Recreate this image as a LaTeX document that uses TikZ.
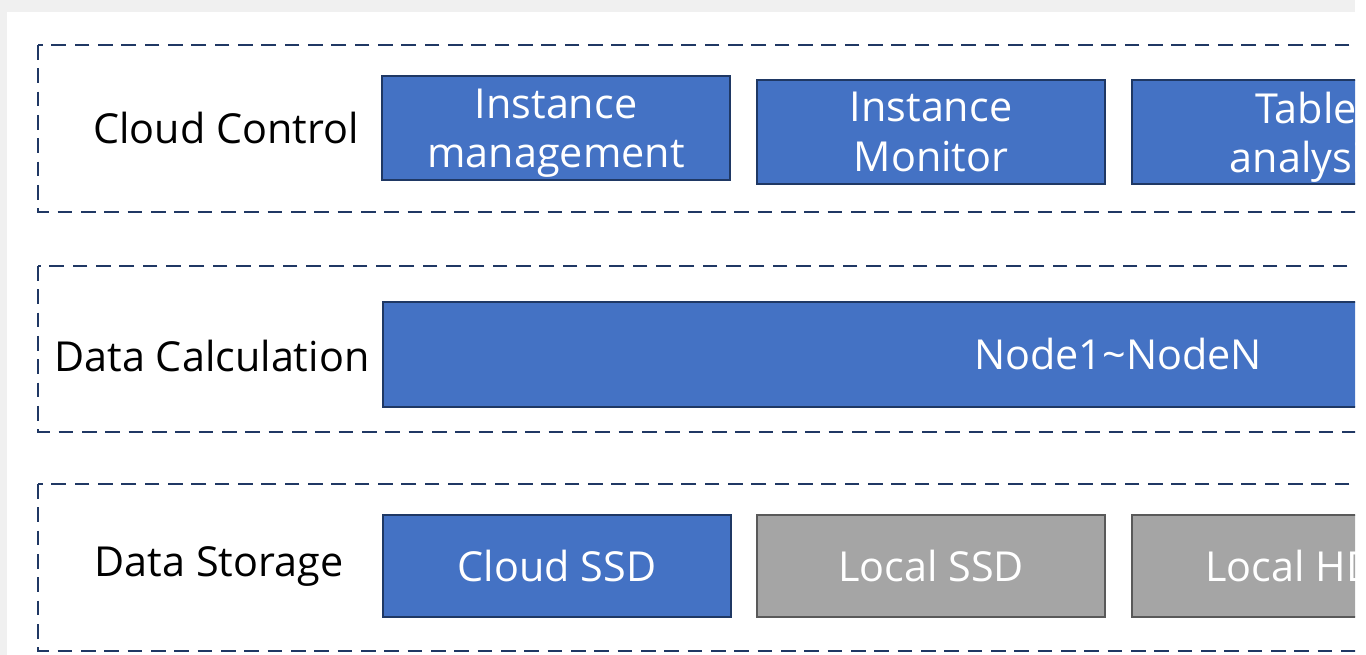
\documentclass[tikz,border=0pt]{standalone}
\usepackage{fontspec}
\setmainfont{Open Sans}
\definecolor{boxblue}{HTML}{4472C4}
\definecolor{boxedge}{HTML}{1F3864}
\definecolor{diskgray}{HTML}{A5A5A5}
\definecolor{diskedge}{HTML}{595959}
\definecolor{framecol}{HTML}{203864}

\begin{document}
\begin{tikzpicture}
	[
	x=0.75pt, y=-0.75pt,
	align=center,
	font={\fontsize{31}{37}\selectfont},
	layerframe/.style={draw=framecol, line width=1.9pt, dash pattern=on 11pt off 6.5pt},
	layername/.style={text=black},
	unit/.style={draw=boxedge, fill=boxblue, text=white, line width=1.6pt, inner sep=0pt, minimum width=261pt, minimum height=78pt},
	disk/.style={unit, draw=diskedge, fill=diskgray, minimum height=76.5pt},
	]
	\useasboundingbox (0,0) rectangle (1366,655);
	\begin{scope}
		\clip (0,0) rectangle (1355,655);
		% page
		\fill[black!6] (0,0) rectangle (1355,655);
		\fill[white] (7,12) rectangle (1355,655);
		
		% layers
		\draw[layerframe] (38,45) rectangle (1880,212);
		\draw[layerframe] (38,266) rectangle (1880,432);
		\draw[layerframe] (38,484) rectangle (1880,651);
		
		% cloud control
		\node[layername] (ctl) at 		( 226, 128 ) {Cloud Control};
		\node[unit] (mgmt) at 			( 556, 128 ) {Instance\\\smash{management}};
		\node[unit] (mon) at 			( 931, 132 ) {Instance\\Monitor};
		\node[unit] (tab) at 			(1306, 132 ) {Table\\\smash{analysis}};
		
		% data calculation
		\node[layername] (calc) at 		( 212, 356 ) {Data Calculation};
		\node[unit, minimum width=1102.5pt, minimum height=78.75pt] (nodes) at (1118, 354.5) {Node1\textasciitilde NodeN};
		
		% data storage
		\node[layername] (store) at 	( 219, 566 ) {Data Storage};
		\node[unit, minimum height=76.5pt] (cssd) at (557, 566 ) {Cloud SSD};
		\node[disk] (lssd) at 			( 931, 566 ) {Local SSD};
		\node[disk] (lhdd) at 			(1306, 566 ) {Local HDD};
	\end{scope}
\end{tikzpicture}
\end{document}
